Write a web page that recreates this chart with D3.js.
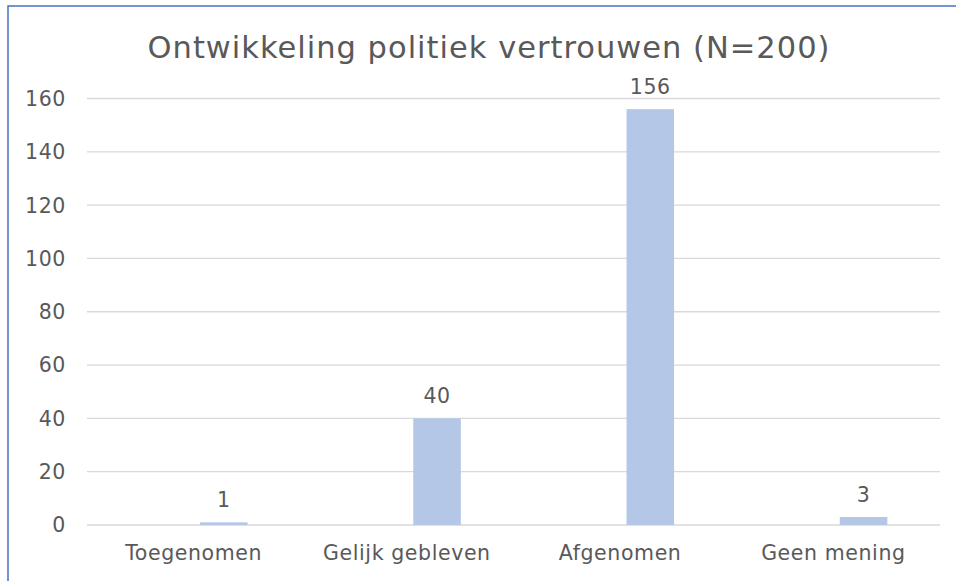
<!DOCTYPE html>
<html>
<head>
<meta charset="utf-8">
<script src="https://cdn.jsdelivr.net/npm/d3@7"></script>
<style>
  body { margin: 0; background: #fff; }
  text { font-family: "DejaVu Sans", Verdana, sans-serif; fill: #595959; }
</style>
</head>
<body>
<script>
// chart data
var categories = ["Toegenomen", "Gelijk gebleven", "Afgenomen", "Geen mening"];
var counts = [1, 40, 156, 3];
var yTicks = [0, 20, 40, 60, 80, 100, 120, 140, 160];
var title = "Ontwikkeling politiek vertrouwen (N=200)";

window.onload = function() {
    var w = 956, h = 581;
    var left = 87, right = 940, top = 98.5, bottom = 525;

    var svg = d3.select("body").append("svg")
        .attr("width", w)
        .attr("height", h);

    // outer frame (only left & top visible)
    svg.append("rect")
        .attr("x", 8).attr("y", 6)
        .attr("width", 1200).attr("height", 1200)
        .style("fill", "none")
        .style("stroke", "#4472C4")
        .style("stroke-width", 1.5);

    var x = d3.scaleBand().domain(categories).range([left, right]);
    var y = d3.scaleLinear().domain([0, 160]).range([bottom, top]);

    // gridlines
    svg.selectAll(".grid").data(yTicks).enter().append("line")
        .attr("class", "grid")
        .attr("x1", left).attr("x2", right)
        .attr("y1", function(d) { return y(d); })
        .attr("y2", function(d) { return y(d); })
        .style("stroke", "#D9D9D9")
        .style("stroke-width", 1.3);

    // y tick labels
    svg.selectAll(".ylab").data(yTicks).enter().append("text")
        .attr("class", "ylab")
        .attr("x", 66)
        .attr("y", function(d) { return y(d); })
        .attr("dy", "0.36em")
        .attr("text-anchor", "end")
        .style("font-size", "20.5px")
        .style("letter-spacing", "0.6px")
        .text(function(d) { return d; });

    // bars sit right of the category centre (second series slot)
    var bw = x.bandwidth();
    var barX = function(d, i) { return x(categories[i]) + bw * 0.53; };
    var barW = bw * 0.223;

    svg.selectAll(".bar").data(counts).enter().append("rect")
        .attr("class", "bar")
        .attr("x", barX)
        .attr("width", barW)
        .attr("y", function(d) { return y(d); })
        .attr("height", function(d) { return bottom - y(d); })
        .style("fill", "#B4C7E7");

    // value labels
    svg.selectAll(".val").data(counts).enter().append("text")
        .attr("class", "val")
        .attr("x", function(d, i) { return barX(d, i) + barW / 2; })
        .attr("y", function(d) { return y(d) - 15; })
        .attr("text-anchor", "middle")
        .style("font-size", "20.5px")
        .style("letter-spacing", "0.6px")
        .text(function(d) { return d; });

    // category labels
    svg.selectAll(".xlab").data(categories).enter().append("text")
        .attr("class", "xlab")
        .attr("x", function(d) { return x(d) + bw / 2; })
        .attr("y", 560)
        .attr("text-anchor", "middle")
        .style("font-size", "20.5px")
        .style("letter-spacing", "0.6px")
        .text(function(d) { return d; });

    // title
    svg.append("text")
        .attr("x", 489)
        .attr("y", 58)
        .attr("text-anchor", "middle")
        .style("font-size", "30.5px")
        .style("letter-spacing", "1px")
        .text(title);
};
</script>
</body>
</html>
